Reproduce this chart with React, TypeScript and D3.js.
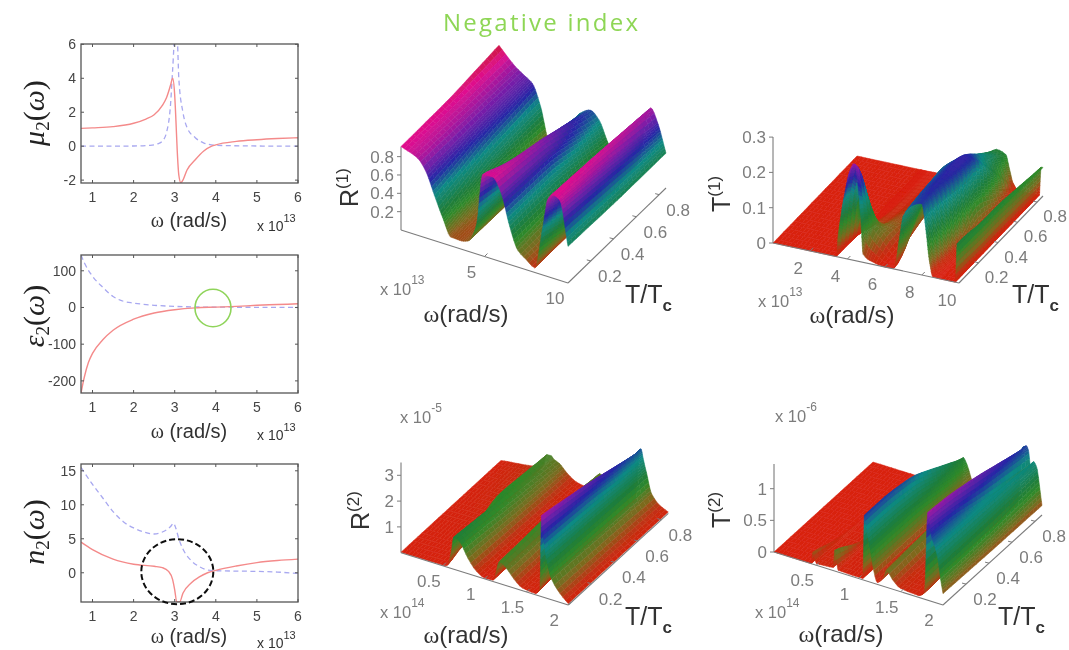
import React from "react";
import * as d3 from "d3";

// ---------- 2D panel data ----------
const muRedW = [0.72,1,1.5,2,2.3,2.5,2.7,2.8,2.9,2.95,3,3.03,3.06,3.1,3.15,3.2,3.3,3.5,3.7,3.9,4,4.5,5,5.5,6];
const muRedV = [1.05,1.08,1.15,1.35,1.6,1.85,2.4,2.85,3.6,4,3,1.5,-0.2,-1.7,-2.15,-2,-1.4,-0.8,-0.3,0,0.08,0.28,0.38,0.45,0.5];
const muBlueW = [0.72,2,2.4,2.6,2.7,2.8,2.9,2.95,3,3.06,3.1,3.2,3.3,3.5,3.7,4,5,6];
const muBlueV = [0,0.01,0.05,0.15,0.3,0.8,2.5,4.5,6.3,6.3,4,2,1.1,0.5,0.2,0.05,0.01,0];
const epRedW = [0.72,0.8,0.9,1,1.25,1.5,2,2.5,3,3.5,4,4.5,5,5.5,6];
const epRedV = [-233,-190,-150,-125,-88,-62,-32,-15,-6,-1,1,3,6,8,10];
const epBlueW = [0.72,0.8,1,1.25,1.5,1.75,2,2.5,3,3.5,4,5,6];
const epBlueV = [143,122,85,55,30,17,12,6,3,1.5,1,0.5,0];
const nRedW = [0.72,1,1.5,2,2.5,2.7,2.85,2.95,3,3.05,3.12,3.2,3.4,3.6,3.8,4,4.5,5,5.5,6];
const nRedV = [4.5,3.4,2,1.25,0.95,0.75,0.2,-1,-2.5,-4.3,-4.3,-3,-1.5,-0.6,0,0.35,1,1.5,1.8,2];
const nBlueW = [0.72,1,1.25,1.5,1.75,2,2.25,2.5,2.7,2.9,2.97,3.03,3.1,3.2,3.4,3.6,3.8,4,4.5,5,5.5,6];
const nBlueV = [15.5,13,11,9,7.5,6.6,6,5.7,6,6.8,7.3,6.5,5,3.5,1.8,0.9,0.4,0.3,0.25,0.2,0.1,-0.1];
const xTicks2D = [1,2,3,4,5,6];
const muTicks = [-2,0,2,4,6];
const epTicks = [-200,-100,0,100];
const nTicks = [0,5,10,15];

// ---------- surface data: rows of z over omega, one row per T ----------
const r1W = [0,1,1.5,2,2.5,3,3.5,4,4.5,4.9,5.5,6,6.5,7,7.5,8,8.5,8.8,9.1,9.5,10];
const r1T = [0,0.43,0.86];
const r1Front = [.91,.84,.72,.49,.27,.09,.09,.11,.3,.9,.9,.75,.42,.18,.11,.05,.55,.85,.91,.88,.4];
const r1Mid = [.92,.82,.74,.62,.42,.22,.08,.1,.3,.6,.78,.7,.42,.2,.1,.06,.25,.75,.88,.8,.38];
const r1Back = [.98,.8,.74,.68,.45,.1,.06,.2,.42,.52,.58,.5,.3,.15,.08,.08,.3,.7,.82,.68,.38];

const t1W = [0,3.4,3.5,3.8,4.1,4.4,4.7,4.85,5.2,6,6.5,6.8,7,7.5,8,8.2,8.4,8.6,9,9.8,9.9,10];
const t1T = [0,0.09,0.22,0.43,0.86];
const t1A = [0,0,.07,.16,.24,.29,.14,.01,0,0,0,.09,.154,.19,.2,.13,.04,0,0,0,.11,.09];
const t1B = [0,0,.02,.2,.27,.2,.12,.08,.05,0,.01,.1,.16,.2,.21,.18,.08,.01,0,0,.11,.09];
const t1C = [0,0,0,.01,.03,.03,.03,.04,.04,.01,.08,.13,.17,.2,.21,.21,.16,.02,0,0,.1,.09];
const t1D = [0,0,0,0,.01,.01,.02,.02,.02,.03,.15,.17,.18,.2,.22,.22,.218,.1,.01,0,.1,.09];
const t1E = [0,0,0,0,0,0,0,0,0,0,.03,.05,.07,.1,.09,.05,.01,0,0,0,.08,.08];

const r2W = [0,.5,.55,.6,.63,.7,.8,.9,1,1.1,1.18,1.25,1.35,1.45,1.6,1.66,1.68,1.7,1.74,1.8,1.9,2];
const r2T = [0,0.43,0.86];
const r2Front = [.02,.02,.02,.6,1.25,1.15,.6,.2,.03,.05,.85,.7,.35,.1,.05,.2,3.16,2.4,1.5,.8,.35,.05];
const r2Mid = [.02,.1,1,1.03,1,.85,.45,.15,.04,.05,.95,.75,.35,.1,.05,1.5,2.7,2.2,1.4,.7,.3,.05];
const r2Back = [.02,.3,.8,.8,.7,.6,.3,.1,.04,.05,.7,.6,.3,.1,.05,2.17,2.1,1.8,1.3,.55,.2,.05];

const t2W = [0,.44,.46,.5,.7,.72,.76,1.05,1.07,1.1,1.14,1.18,1.22,1.3,1.33,1.4,1.5,1.7,1.78,1.82,1.84,1.87,1.9,1.94,1.97,2];
const t2T = [0,0.2,0.43,0.86];
const t2A = [0,0,.2,.03,.05,.35,.03,.02,1.03,.8,.5,.2,.03,.15,.27,.15,.05,.03,.1,1.39,1.25,1,.9,.7,.4,.18];
const t2B = [0,0,.05,.02,.03,.1,.02,.02,1.03,.8,.5,.2,.04,.2,.3,.18,.06,.03,.12,1.35,1.2,.95,.88,.7,.4,.17];
const t2C = [0,0,0,0,0,.01,.01,.01,.95,.75,.48,.2,.04,.25,.32,.2,.06,.03,.2,1.25,1.1,.85,.85,.7,.4,.16];
const t2D = [0,0,0,0,0,0,0,.01,.5,.45,.32,.15,.03,.2,.25,.15,.05,.03,1.02,1.0,.95,.65,.8,.72,.45,.15];

const hsvStops = [0,.05,.13,.25,.33,.5,.63,.76,.9,1];
const hsvColors = ["#d8200f","#c23012","#7d6a1f","#2f8a2a","#1f7d3a","#0f8a85","#2626a6","#7a1fa8","#e0108f","#c81d25"];

const SANS = "'Liberation Sans', Arial, sans-serif";
const SERIF = "'Liberation Serif', 'DejaVu Serif', serif";
const GRAY = "#7c7c7c";

function Panel2D({ top, bottom, yDomain, yTicks, red, blue, label, labelY, labelSub, xlabelY, expY, id, children }: any) {
  const x = d3.scaleLinear().domain([0.72, 6]).range([81, 298]);
  const y = d3.scaleLinear().domain(yDomain).range([bottom, top]);
  const line = d3.line<number[]>().x(d => x(d[0])).y(d => y(d[1])).curve(d3.curveMonotoneX);
  const pts = (a: number[][]) => a[0].map((w, i) => [w, a[1][i]]);
  const ax = "#555";
  return (
    <g>
      <defs><clipPath id={id}><rect x={81} y={top} width={217} height={bottom - top} /></clipPath></defs>
      <g clipPath={`url(#${id})`}>
        <path d={line(pts(blue)) as string} fill="none" stroke="#a8a8f0" strokeWidth={1.3} strokeDasharray="5 3.5" />
        <path d={line(pts(red)) as string} fill="none" stroke="#f48a8a" strokeWidth={1.4} />
      </g>
      <rect x={81} y={top} width={217} height={bottom - top} fill="none" stroke={ax} strokeWidth={1.3} />
      {xTicks2D.map(t => (
        <g key={t}>
          <line x1={x(t)} x2={x(t)} y1={bottom} y2={bottom - 3} stroke={ax} />
          <line x1={x(t)} x2={x(t)} y1={top} y2={top + 3} stroke={ax} />
          <text x={x(t)} y={bottom + 19} textAnchor="middle" fontFamily={SANS} fontSize={14} fill="#444">{t}</text>
        </g>
      ))}
      {yTicks.map((t: number) => (
        <g key={t}>
          <line x1={81} x2={84} y1={y(t)} y2={y(t)} stroke={ax} />
          <line x1={298} x2={295} y1={y(t)} y2={y(t)} stroke={ax} />
          <text x={76} y={y(t) + 5} textAnchor="end" fontFamily={SANS} fontSize={14} fill="#444">{t}</text>
        </g>
      ))}
      <text x={189} y={xlabelY} textAnchor="middle" fontSize={20} fontFamily={SANS} fill="#333">
        <tspan fontFamily={SERIF}>ω</tspan> (rad/s)
      </text>
      <text x={257} y={expY} fontFamily={SANS} fontSize={14} fill="#333">x 10<tspan dy={-9} fontSize={11}>13</tspan></text>
      <text transform={`translate(44,${labelY}) rotate(-90)`} textAnchor="middle" fontFamily={SERIF} fontSize={30} fill="#222">
        <tspan fontStyle="italic">{label}</tspan><tspan fontSize={19} dy={5}>{labelSub}</tspan><tspan dy={-5}>(</tspan><tspan fontStyle="italic">ω</tspan>)
      </text>
      {children}
    </g>
  );
}

// monotone cubic tangents of one row
function tangents(xs: number[], ys: number[]) {
  const n = xs.length;
  const sec = d3.range(n - 1).map(i => (ys[i + 1] - ys[i]) / (xs[i + 1] - xs[i]));
  const m = new Array(n).fill(0);
  m[0] = sec[0];
  m[n - 1] = sec[n - 2];
  for (let i = 1; i < n - 1; i++) m[i] = sec[i - 1] * sec[i] <= 0 ? 0 : (2 * sec[i - 1] * sec[i]) / (sec[i - 1] + sec[i]);
  return m;
}

function Surface({ cfg }: any) {
  const { w, rows, ts, O, wEnd, tEnd, zPx, cMax, wTicks, zTicks, tTicks, wOff, tOff, zTop, wDomain } = cfg;
  const color = d3.scaleLinear<string>().domain(hsvStops.map(s => s * cMax)).range(hsvColors).clamp(true);
  const wS = d3.scaleLinear().domain(wDomain).range([0, 1]);
  const tS = d3.scaleLinear().domain([0, 0.86]).range([0, 1]);
  const zS = d3.scaleLinear().domain([0, 1]).range([0, zPx]);
  const P = (wv: number, t: number, z: number): [number, number] => [
    O[0] + wS(wv) * (wEnd[0] - O[0]) + tS(t) * (tEnd[0] - O[0]),
    O[1] + wS(wv) * (wEnd[1] - O[1]) + tS(t) * (tEnd[1] - O[1]) - zS(z),
  ];
  const tans = rows.map((r: number[]) => tangents(w, r));
  const rowAt = (j: number, i: number, f: number) => {
    const h = w[i + 1] - w[i];
    const y0 = rows[j][i], y1 = rows[j][i + 1], m0 = tans[j][i], m1 = tans[j][i + 1];
    const f2 = f * f, f3 = f2 * f;
    return (2 * f3 - 3 * f2 + 1) * y0 + (f3 - 2 * f2 + f) * h * m0 + (-2 * f3 + 3 * f2) * y1 + (f3 - f2) * h * m1;
  };
  const linT = (i: number, f: number, t: number) => {
    const tc = Math.max(0, Math.min(0.86, t));
    let j = d3.bisectRight(ts, tc) - 1;
    j = Math.max(0, Math.min(ts.length - 2, j));
    const g = (tc - ts[j]) / (ts[j + 1] - ts[j]);
    return rowAt(j, i, f) * (1 - g) + rowAt(j + 1, i, f) * g;
  };
  // window average along T rounds the corners between rows
  const z = (i: number, f: number, t: number) => (linT(i, f, t - 0.05) + linT(i, f, t) + linT(i, f, t + 0.05)) / 3;
  const quads: { d: string; c: string }[] = [];
  const NT = 24;
  const tGrid = d3.range(NT + 1).map(k => (0.86 * k) / NT);
  for (let i = 0; i < w.length - 1; i++) {
    const span = Math.abs(wS(w[i + 1]) - wS(w[i])) * 180;
    const zSpan = Math.max(...rows.map((r: number[]) => Math.abs(r[i + 1] - r[i]))) * zPx;
    const nw = Math.max(2, Math.min(16, Math.ceil(Math.max(span, zSpan) / 4)));
    for (let s = 0; s < nw; s++) {
      const f0 = s / nw, f1 = (s + 1) / nw;
      const w0 = w[i] + (w[i + 1] - w[i]) * f0, w1 = w[i] + (w[i + 1] - w[i]) * f1;
      for (let k = NT - 1; k >= 0; k--) {
        const t0 = tGrid[k], t1 = tGrid[k + 1];
        const z00 = z(i, f0, t0), z10 = z(i, f1, t0), z11 = z(i, f1, t1), z01 = z(i, f0, t1);
        const a = P(w0, t0, z00), b = P(w1, t0, z10), c = P(w1, t1, z11), e = P(w0, t1, z01);
        quads.push({
          d: `M${a[0].toFixed(1)},${a[1].toFixed(1)}L${b[0].toFixed(1)},${b[1].toFixed(1)}L${c[0].toFixed(1)},${c[1].toFixed(1)}L${e[0].toFixed(1)},${e[1].toFixed(1)}Z`,
          c: color((z00 + z10 + z11 + z01) / 4) as string,
        });
      }
    }
  }
  const o = P(wDomain[0], 0, 0), we = P(wDomain[1], 0, 0), te = P(wDomain[1], 0.86, 0);
  return (
    <g>
      <line x1={o[0]} y1={o[1]} x2={o[0]} y2={o[1] - zS(zTop)} stroke={GRAY} strokeWidth={1.1} />
      {zTicks.map((t: number) => {
        const p = P(wDomain[0], 0, t);
        return (
          <g key={t}>
            <line x1={p[0] - 4} x2={p[0]} y1={p[1]} y2={p[1]} stroke={GRAY} />
            <text x={p[0] - 7} y={p[1] + 6} textAnchor="end" fontFamily={SANS} fontSize={17} fill={GRAY}>{t}</text>
          </g>
        );
      })}
      {quads.map((q, i) => <path key={i} d={q.d} fill={q.c} stroke={q.c} strokeWidth={0.5} />)}
      <line x1={o[0]} y1={o[1]} x2={we[0]} y2={we[1]} stroke={GRAY} strokeWidth={1.1} />
      <line x1={we[0]} y1={we[1]} x2={te[0]} y2={te[1]} stroke={GRAY} strokeWidth={1.1} />
      {wTicks.map((t: number) => {
        const p = P(t, 0, 0);
        return (
          <g key={t}>
            <line x1={p[0]} y1={p[1]} x2={p[0] + 3} y2={p[1] - 3} stroke={GRAY} />
            <text x={p[0] + wOff[0]} y={p[1] + wOff[1]} textAnchor="middle" fontFamily={SANS} fontSize={17} fill={GRAY}>{t}</text>
          </g>
        );
      })}
      {tTicks.map((t: number) => {
        const p = P(wDomain[1], t, 0);
        return (
          <g key={t}>
            <line x1={p[0]} y1={p[1]} x2={p[0] - 4} y2={p[1] - 1} stroke={GRAY} />
            <text x={p[0] + tOff[0]} y={p[1] + tOff[1]} textAnchor="middle" fontFamily={SANS} fontSize={17} fill={GRAY}>{t}</text>
          </g>
        );
      })}
    </g>
  );
}

function Labels3D({ zName, sup, zx, zy, wx, wy, tx, ty, ex, ey, mant, exp, ex2, ey2, exp2 }: any) {
  return (
    <g fill="#333" fontFamily={SANS}>
      <text transform={`translate(${zx},${zy}) rotate(-90)`} fontSize={25}>{zName}<tspan dy={-10} fontSize={17}>{sup}</tspan></text>
      <text x={wx} y={wy} textAnchor="middle" fontSize={24}><tspan fontFamily={SERIF}>ω</tspan>(rad/s)</text>
      <text x={tx} y={ty} fontSize={25}>T/T<tspan dy={8} fontSize={17} fontWeight="bold">c</tspan></text>
      <text x={ex} y={ey} fontSize={16.5} fill={GRAY}>{mant}<tspan dy={-11} fontSize={12}>{exp}</tspan></text>
      {ex2 !== undefined && <text x={ex2} y={ey2} fontSize={16.5} fill={GRAY}>{mant}<tspan dy={-11} fontSize={12}>{exp2}</tspan></text>}
    </g>
  );
}

const tAxis = [0.2, 0.4, 0.6, 0.8];

export default function App() {
  return (
    <svg width={1069} height={650} style={{ position: "absolute", left: 0, top: 0, background: "#fff" }}>
      <defs><filter id="soft" x="-5%" y="-5%" width="110%" height="110%"><feGaussianBlur stdDeviation="0.6" /></filter></defs>
      <g filter="url(#soft)">
        <text x={443} y={31} fontFamily="'Open Sans', sans-serif" fontSize={24} textLength={195} lengthAdjust="spacing" fill="#8ed655">Negative index</text>

        <Panel2D id="c1" top={44} bottom={183} yDomain={[-2.17, 6.02]} yTicks={muTicks} red={[muRedW, muRedV]} blue={[muBlueW, muBlueV]}
          label="μ" labelSub="2" labelY={113} xlabelY={227} expY={231} />
        <Panel2D id="c2" top={255} bottom={393} yDomain={[-233, 143]} yTicks={epTicks} red={[epRedW, epRedV]} blue={[epBlueW, epBlueV]}
          label="ε" labelSub="2" labelY={316} xlabelY={438} expY={440}>
          <ellipse cx={213} cy={308} rx={18} ry={18.7} fill="none" stroke="#8fd45a" strokeWidth={1.6} />
        </Panel2D>
        <Panel2D id="c3" top={464} bottom={602} yDomain={[-4.3, 16]} yTicks={nTicks} red={[nRedW, nRedV]} blue={[nBlueW, nBlueV]}
          label="n" labelSub="2" labelY={532} xlabelY={643} expY={648}>
          <ellipse cx={177.3} cy={571.7} rx={36} ry={32.5} fill="none" stroke="#111" strokeWidth={2} strokeDasharray="6 3" />
        </Panel2D>

        <Surface cfg={{ w: r1W, rows: [r1Front, r1Mid, r1Back], ts: r1T, O: [401, 230], wEnd: [568, 283], tEnd: [499, 135], zPx: 91.7, cMax: 1, wDomain: [0, 10],
          wTicks: [5, 10], zTicks: [0.2, 0.4, 0.6, 0.8], tTicks: tAxis, wOff: [-13, 21], tOff: [19, 21], zTop: 0.91 }} />
        <Surface cfg={{ w: t1W, rows: [t1A, t1B, t1C, t1D, t1E], ts: t1T, O: [773, 243], wEnd: [959, 283], tEnd: [857, 156], zPx: 353, cMax: 0.33, wDomain: [0, 10],
          wTicks: [2, 4, 6, 8, 10], zTicks: [0, 0.1, 0.2, 0.3], tTicks: tAxis, wOff: [-12, 23], tOff: [18, 20], zTop: 0.3 }} />
        <Surface cfg={{ w: r2W, rows: [r2Front, r2Mid, r2Back], ts: r2T, O: [401, 552.7], wEnd: [568.3, 605], tEnd: [501, 461], zPx: 25.8, cMax: 3.8, wDomain: [0, 2],
          wTicks: [0.5, 1, 1.5, 2], zTicks: [1, 2, 3], tTicks: tAxis, wOff: [-14, 21], tOff: [19, 21], zTop: 3.5 }} />
        <Surface cfg={{ w: t2W, rows: [t2A, t2B, t2C, t2D], ts: t2T, O: [774, 552], wEnd: [943, 605], tEnd: [873, 462], zPx: 63.3, cMax: 1.7, wDomain: [0, 2],
          wTicks: [0.5, 1, 1.5, 2], zTicks: [0, 0.5, 1], tTicks: tAxis, wOff: [-14, 21], tOff: [19, 21], zTop: 1.39 }} />

        <Labels3D zName="R" sup="(1)" zx={358} zy={207} wx={466} wy={322} tx={625} ty={303} mant="x 10" exp="13" ex={380} ey={295} />
        <Labels3D zName="T" sup="(1)" zx={730} zy={212} wx={852} wy={323} tx={1012} ty={303} mant="x 10" exp="13" ex={758} ey={307} />
        <Labels3D zName="R" sup="(2)" zx={369} zy={530} wx={466} wy={643} tx={625} ty={625} mant="x 10" exp="14" ex={380} ey={618} ex2={400} ey2={423} exp2="-5" />
        <Labels3D zName="T" sup="(2)" zx={730} zy={528} wx={841} wy={642} tx={998} ty={625} mant="x 10" exp="14" ex={755} ey={618} ex2={775} ey2={422} exp2="-6" />
      </g>
    </svg>
  );
}
